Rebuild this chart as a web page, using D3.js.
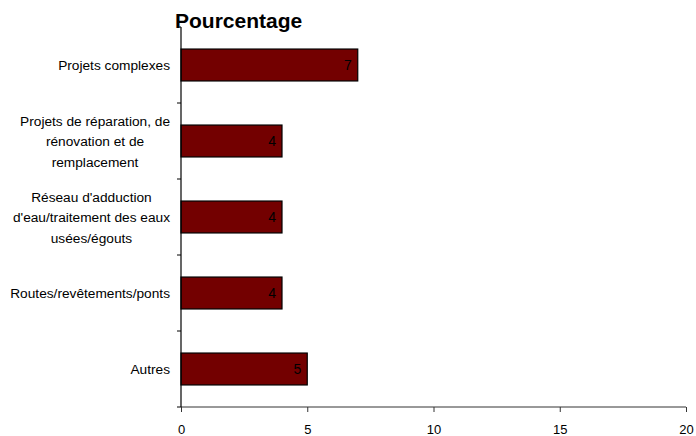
<!DOCTYPE html>
<html><head><meta charset="utf-8">
<script src="https://cdn.jsdelivr.net/npm/d3@7"></script>
<style>body{margin:0;background:#fff}svg{display:block}text{font-family:Arial,"Liberation Sans",sans-serif}</style>
</head><body>
<svg id="c" width="696" height="436"></svg>
<script>
const categories = [
  ["Projets complexes"],
  ["Projets de réparation, de","rénovation et de","remplacement"],
  ["Réseau d'adduction","d'eau/traitement des eaux","usées/égouts"],
  ["Routes/revêtements/ponts"],
  ["Autres"]
];
const values = [7, 4, 4, 4, 5];
const xTicks = [0, 5, 10, 15, 20];
const title = "Pourcentage";

(function(){
const svg = d3.select("#c");
const mL = 181, mR = 686, mT = 27, mB = 407;
const x = d3.scaleLinear().domain([0, 20]).range([mL, mR]);
const y = d3.scaleBand().domain(d3.range(categories.length)).range([mT, mB]).paddingInner(0.58).paddingOuter(0.29);

// bars
svg.selectAll("rect.bar").data(values).join("rect")
  .attr("class","bar")
  .attr("x", x(0)).attr("y", (d,i)=>y(i))
  .attr("width", d=>x(d)-x(0)).attr("height", y.bandwidth())
  .attr("fill","#730000").attr("stroke","#000").attr("stroke-width",1.2);

// value labels
svg.selectAll("text.val").data(values).join("text")
  .attr("class","val")
  .attr("x", d=>x(d)-6).attr("y",(d,i)=>y(i)+y.bandwidth()/2+5)
  .attr("text-anchor","end").attr("font-size",14).attr("fill","#000")
  .text(d=>d);

// x axis
const xa = svg.append("g").attr("transform",`translate(0,${mB})`)
  .call(d3.axisBottom(x).tickValues(xTicks).tickSize(5).tickPadding(13).tickFormat(d3.format("d")));
xa.select(".domain").attr("stroke","#333").attr("d",`M${mL},0H${mR}`);
xa.selectAll(".tick line").attr("stroke","#333");
xa.selectAll("text").attr("font-size",13).attr("font-family","Arial, Liberation Sans, sans-serif").attr("fill","#000");

// y axis line and ticks at band boundaries
const step = (mB-mT)/categories.length;
svg.append("line").attr("x1",mL).attr("x2",mL).attr("y1",mT).attr("y2",mB).attr("stroke","#000").attr("stroke-width",1.2);
svg.selectAll("line.yt").data(d3.range(categories.length+1)).join("line")
  .attr("class","yt").attr("x1",mL-4).attr("x2",mL)
  .attr("y1",i=>mT+i*step).attr("y2",i=>mT+i*step).attr("stroke","#000");

// category labels: wrapped block, right edge at labelRight, lines centred in block
const lh = 20.5, labelRight = 170;
categories.forEach((lines,i)=>{
  const cy = y(i)+y.bandwidth()/2;
  const t = svg.append("text").attr("text-anchor","middle").attr("font-size",13.7).attr("fill","#000");
  const spans = lines.map((l,j)=>t.append("tspan").attr("y", cy + (j-(lines.length-1)/2)*lh + 5).text(l));
  const maxW = d3.max(spans, s=>s.node().getComputedTextLength());
  spans.forEach(s=>s.attr("x", labelRight - maxW/2));
});

// title
svg.append("text").attr("x",175).attr("y",28).attr("font-size",21).attr("font-weight","bold").attr("fill","#000").text(title);
})();
</script>
</body></html>
